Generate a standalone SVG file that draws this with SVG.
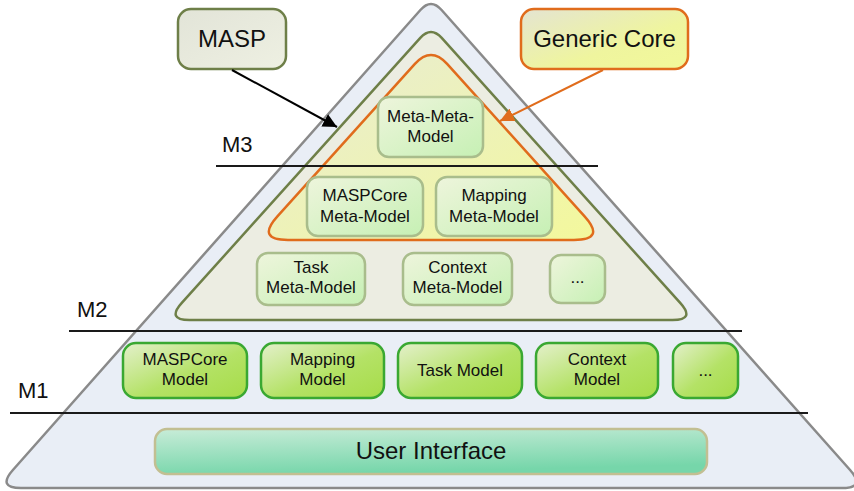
<svg xmlns="http://www.w3.org/2000/svg" width="854" height="491" viewBox="0 0 854 491">
<defs>
<linearGradient id="gM1" x1="0" y1="0" x2="1" y2="1"><stop offset="0" stop-color="#e4f0cc"/><stop offset="0.55" stop-color="#b4e266"/><stop offset="1" stop-color="#a6dc48"/></linearGradient>
<linearGradient id="gM2" x1="0" y1="0" x2="1" y2="1"><stop offset="0" stop-color="#eef5dc"/><stop offset="1" stop-color="#c6f0b4"/></linearGradient>
<linearGradient id="gUI" x1="0" y1="0" x2="0.3" y2="1"><stop offset="0" stop-color="#c8ecd8"/><stop offset="1" stop-color="#76d6aa"/></linearGradient>
<linearGradient id="gCore" x1="0" y1="0" x2="1" y2="1"><stop offset="0" stop-color="#e8ecd4"/><stop offset="1" stop-color="#f3f89c"/></linearGradient>
<linearGradient id="gGen" x1="0" y1="0" x2="1" y2="1"><stop offset="0" stop-color="#e4e4d2"/><stop offset="0.6" stop-color="#eff59e"/><stop offset="1" stop-color="#f2f89a"/></linearGradient>
<linearGradient id="gMasp" x1="0" y1="0" x2="1" y2="1"><stop offset="0" stop-color="#e2e4d8"/><stop offset="1" stop-color="#eef0e2"/></linearGradient>
<marker id="ahB" viewBox="0 0 10 10" refX="10" refY="5" markerWidth="7" markerHeight="7" orient="auto"><path d="M0,0 L10,5 L0,10 Z" fill="#000"/></marker>
<marker id="ahO" viewBox="0 0 10 10" refX="10" refY="5" markerWidth="7" markerHeight="7" orient="auto"><path d="M0,0 L10,5 L0,10 Z" fill="#e06c1c"/></marker>
</defs>
<style>
text{font-family:"Liberation Sans",Arial,sans-serif;fill:#111;text-anchor:middle}
.lbl{font-size:22px;text-anchor:start}
.big{font-size:24px}
.sm{font-size:17px}
.m1{fill:url(#gM1);stroke:#3aa832;stroke-width:2.5}
.m2{fill:url(#gM2);stroke:#a9bd8c;stroke-width:2.5}
.sep{stroke:#1a1a1a;stroke-width:2}
</style>
<g id="pyramid">
<path d="M420.4,10 Q431,-2 441.6,10 L850.1,470 Q866,488 842,488 L21,488 Q-3,488 12.9,470 Z" fill="#e9eef6" stroke="#8a8a8a" stroke-width="2.5"/>
</g>
<g id="masp-layer">
<path d="M420.3,37.9 Q431,26 441.7,37.9 L680.2,302.9 Q695.6,320 672.6,320 L189.4,320 Q166.4,320 181.8,302.9 Z" fill="#ecede2" stroke="#6e7f48" stroke-width="2.5"/>
</g>
<g id="core-layer">
<path d="M414.9,63.8 Q431,46 447.1,63.8 L584.6,216.3 Q606,240 574,240 L288,240 Q256,240 277.4,216.3 Z" fill="url(#gCore)" stroke="#e06c1c" stroke-width="2.5"/>
</g>
<g id="levels">
<line class="sep" x1="216" y1="166" x2="598" y2="166"/>
<line class="sep" x1="69" y1="331" x2="742" y2="331"/>
<line class="sep" x1="10" y1="413" x2="808" y2="413"/>
<text class="lbl" x="222" y="152">M3</text>
<text class="lbl" x="77" y="317">M2</text>
<text class="lbl" x="18" y="398">M1</text>
</g>
<g id="masp">
<rect x="178" y="9" width="108" height="60" rx="13" fill="url(#gMasp)" stroke="#6e7f48" stroke-width="2.5"/>
<text class="big" x="232" y="47">MASP</text>
</g>
<g id="generic-core">
<rect x="521" y="9" width="167" height="60" rx="13" fill="url(#gGen)" stroke="#e06c1c" stroke-width="2.5"/>
<text class="big" x="604.5" y="47">Generic Core</text>
</g>
<g id="connectors">
<line x1="232" y1="70" x2="337" y2="127" stroke="#000" stroke-width="2" marker-end="url(#ahB)"/>
<line x1="603" y1="70" x2="500" y2="121" stroke="#e06c1c" stroke-width="2" marker-end="url(#ahO)"/>
</g>
<g id="meta-meta-model">
<rect class="m2" x="378" y="97" width="105" height="60" rx="11"/>
<text class="sm" x="430.5" y="122">Meta-Meta-</text>
<text class="sm" x="430.5" y="142">Model</text>
</g>
<g id="maspcore-meta-model">
<rect class="m2" x="307" y="177" width="116" height="59" rx="11"/>
<text class="sm" x="365" y="201">MASPCore</text>
<text class="sm" x="365" y="222">Meta-Model</text>
</g>
<g id="mapping-meta-model">
<rect class="m2" x="436" y="177" width="116" height="59" rx="11"/>
<text class="sm" x="494" y="201">Mapping</text>
<text class="sm" x="494" y="222">Meta-Model</text>
</g>
<g id="task-meta-model">
<rect class="m2" x="257" y="253" width="108" height="52" rx="11"/>
<text class="sm" x="311" y="273">Task</text>
<text class="sm" x="311" y="293">Meta-Model</text>
</g>
<g id="context-meta-model">
<rect class="m2" x="403" y="253" width="109" height="52" rx="11"/>
<text class="sm" x="457.5" y="273">Context</text>
<text class="sm" x="457.5" y="293">Meta-Model</text>
</g>
<g id="more-meta-model">
<rect class="m2" x="550" y="255" width="55" height="48" rx="11"/>
<text class="sm" x="577.5" y="283">...</text>
</g>
<g id="maspcore-model">
<rect class="m1" x="123" y="343" width="124" height="55" rx="13"/>
<text class="sm" x="185" y="365">MASPCore</text>
<text class="sm" x="185" y="385">Model</text>
</g>
<g id="mapping-model">
<rect class="m1" x="261" y="343" width="123" height="55" rx="13"/>
<text class="sm" x="322.5" y="365">Mapping</text>
<text class="sm" x="322.5" y="385">Model</text>
</g>
<g id="task-model">
<rect class="m1" x="398" y="343" width="124" height="55" rx="13"/>
<text class="sm" x="460" y="376">Task Model</text>
</g>
<g id="context-model">
<rect class="m1" x="536" y="343" width="122" height="55" rx="13"/>
<text class="sm" x="597" y="365">Context</text>
<text class="sm" x="597" y="385">Model</text>
</g>
<g id="more-model">
<rect class="m1" x="673" y="343" width="65" height="55" rx="13"/>
<text class="sm" x="705.5" y="376">...</text>
</g>
<g id="user-interface">
<rect x="155" y="429" width="552" height="45" rx="12" fill="url(#gUI)" stroke="#c2bf92" stroke-width="2.5"/>
<text class="big" x="431" y="459">User Interface</text>
</g>
</svg>
